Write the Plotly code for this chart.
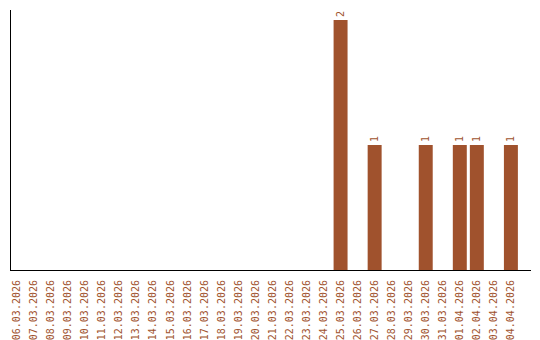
import plotly.graph_objects as go

dates = ["06.03.2026","07.03.2026","08.03.2026","09.03.2026","10.03.2026","11.03.2026",
         "12.03.2026","13.03.2026","14.03.2026","15.03.2026","16.03.2026","17.03.2026",
         "18.03.2026","19.03.2026","20.03.2026","21.03.2026","22.03.2026","23.03.2026",
         "24.03.2026","25.03.2026","26.03.2026","27.03.2026","28.03.2026","29.03.2026",
         "30.03.2026","31.03.2026","01.04.2026","02.04.2026","03.04.2026","04.04.2026"]
counts = [0,0,0,0,0,0,0,0,0,0,0,0,0,0,0,0,0,0,0,2,0,1,0,0,1,0,1,1,0,1]

color = "#A0522D"
labels = [str(v) if v > 0 else "" for v in counts]

fig = go.Figure(go.Bar(
    x=dates, y=counts, marker=dict(color=color, line=dict(width=0)),
    text=labels, textposition="outside", textangle=-90,
    textfont=dict(family="DejaVu Sans Mono", size=10, color=color),
    cliponaxis=False,
))
fig.update_layout(
    width=540, height=340,
    margin=dict(l=11, r=9, t=10, b=70, autoexpand=False),
    paper_bgcolor="white", plot_bgcolor="white",
    bargap=0.18, showlegend=False,
    font=dict(family="DejaVu Sans Mono", size=10, color=color),
    uniformtext=dict(minsize=10, mode="show"),
)
fig.update_xaxes(type="category", range=[-0.35, 30.18], tickangle=-90,
                 automargin=False, ticklabelstandoff=5,
                 showline=True, linecolor="black", linewidth=1, ticks="",
                 showgrid=False, tickfont=dict(family="DejaVu Sans Mono", size=10, color=color))
fig.update_yaxes(range=[0, 2.08], showline=True, linecolor="black", linewidth=1,
                 automargin=False,
                 showticklabels=False, ticks="", showgrid=False, zeroline=False)
fig.write_html("out.html")
